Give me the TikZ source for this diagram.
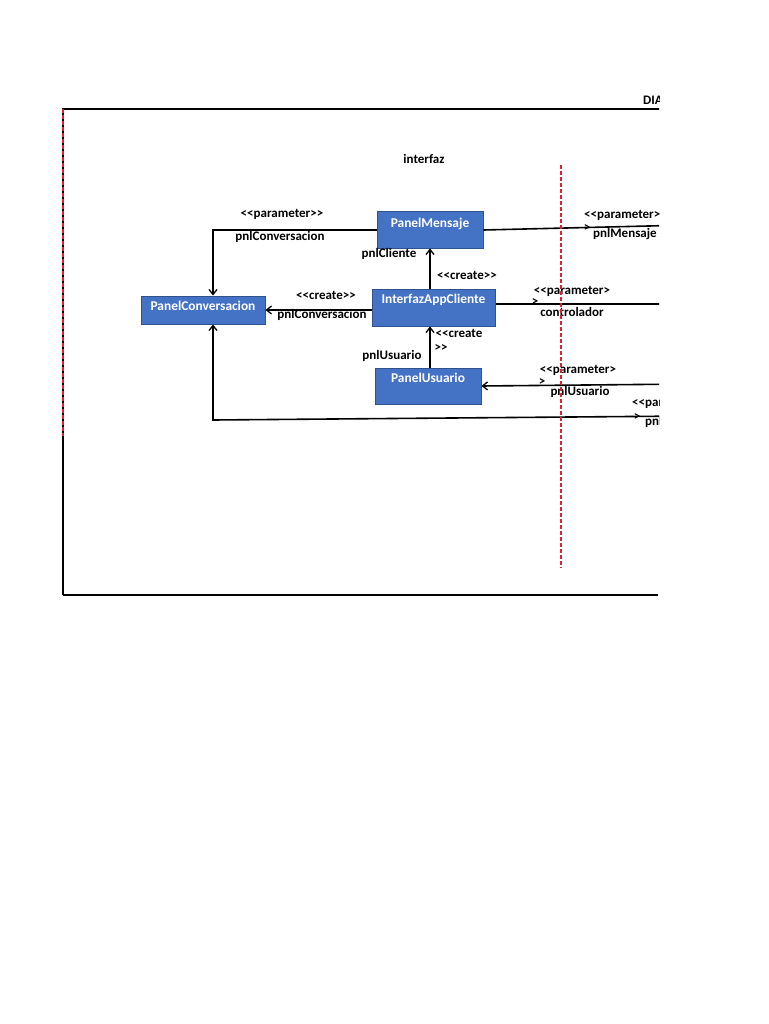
\documentclass[tikz,border=0pt]{standalone}
\usepackage{fontspec}
\setmainfont{Carlito}
\usetikzlibrary{arrows.meta}
\definecolor{boxfill}{HTML}{4472C4}
\definecolor{boxline}{HTML}{2F528F}
\definecolor{redline}{HTML}{E0202A}
\begin{document}
\begin{tikzpicture}[x=1pt,y=-1pt,
  every node/.style={font=\fontsize{13}{15}\selectfont\bfseries},
  cls/.style={draw=boxline,line width=1pt,fill=boxfill,text=white,inner sep=0pt,text height=9pt,
    font=\fontsize{13.4}{15}\selectfont\bfseries},
  lbl/.style={inner sep=0pt,anchor=center},
  conn/.style={line width=1.6pt,black},
  arr/.style={conn,-{Straight Barb[length=5pt,width=8pt,line width=1.3pt]}},
  redd/.style={redline,line width=1.3pt,dash pattern=on 4pt off 2pt}]
\useasboundingbox (0,0) rectangle (768,1024);
\begin{scope}
\clip (0,0) rectangle (659,1024);
% frame
\draw[line width=1.8pt] (63,595) -- (63,109) -- (680,109);
\draw[line width=1.8pt] (63,595) -- (658,595);
\draw[redd] (63,109) -- (63,436);
\node[lbl,anchor=west] (title) at (643,100) {DIAGRAMA};
\node[lbl] (pkg) at (424,159) {interfaz};
% classes
\node[cls,minimum width=106pt,minimum height=36pt,text depth=14pt] (pm) at (430,230) {PanelMensaje};
\node[cls,minimum width=124pt,minimum height=28pt,text depth=8pt] (pc) at (203,310) {PanelConversacion};
\node[cls,minimum width=123pt,minimum height=37pt,text depth=17pt] (iac) at (433.5,307.5) {InterfazAppCliente};
\node[cls,minimum width=106pt,minimum height=36pt,text depth=16pt] (pu) at (428,386) {PanelUsuario};
% outer coordinates
\coordinate (pmR) at (690,225);
\coordinate (iacR) at (690,304);
\coordinate (puR) at (690,384);
\coordinate (pcR) at (690,416);
\coordinate (pcC) at (213,420);
% connectors
\draw[arr] (pm.west) -| ([xshift=10pt]pc.north);
\draw[conn] (pm.east) -- (pmR);
\draw[arr] (iac.west |- pc.east) -- (pc.east);
\draw[arr] (iac.north -| pm.south) -- (pm.south);
\draw[conn] ([yshift=3.5pt]iac.east) -- (iacR);
\draw[arr] (pu.north -| pm.south) -- (pm.south |- iac.south);
\draw[arr] (puR) -- (pu.east);
\draw[arr] (pcR) -- (pcC) -- ([xshift=10pt]pc.south);
% labels
\node[lbl] (l1a) at (282,214) {<{}<parameter>{}>};
\node[lbl] (l1b) at (280,237) {pnlConversacion};
\node[lbl,anchor=west] (l2a) at (584,215) {<{}<parameter>{}>};
\node[lbl] (l2b) at (587,228) {>};
\node[lbl,anchor=west] (l2c) at (593,234) {pnlMensaje};
\node[lbl] (l3a) at (326,295) {<{}<create>{}>};
\node[lbl] (l3b) at (322,315) {pnlConversacion};
\node[lbl] (l4a) at (467,275) {<{}<create>{}>};
\node[lbl] (l4b) at (389,254) {pnlCliente};
\node[lbl] (l5a) at (572,291) {<{}<parameter>};
\node[lbl] (l5b) at (535,302) {>};
\node[lbl] (l5c) at (572,312) {controlador};
\node[lbl] (l6a) at (459,333) {<{}<create};
\node[lbl] (l6b) at (441,348) {>{}>};
\node[lbl] (l6c) at (392,356) {pnlUsuario};
\node[lbl] (l7a) at (578,370) {<{}<parameter>};
\node[lbl] (l7b) at (542,382) {>};
\node[lbl] (l7c) at (580,392) {pnlUsuario};
\node[lbl,anchor=west] (l8a) at (632,403) {<{}<parameter>};
\node[lbl] (l8b) at (637,417) {>};
\node[lbl,anchor=west] (l8c) at (645,422) {pnlConversacion};
\draw[redd] (561,165) -- (561,568);
\end{scope}
\end{tikzpicture}
\end{document}
